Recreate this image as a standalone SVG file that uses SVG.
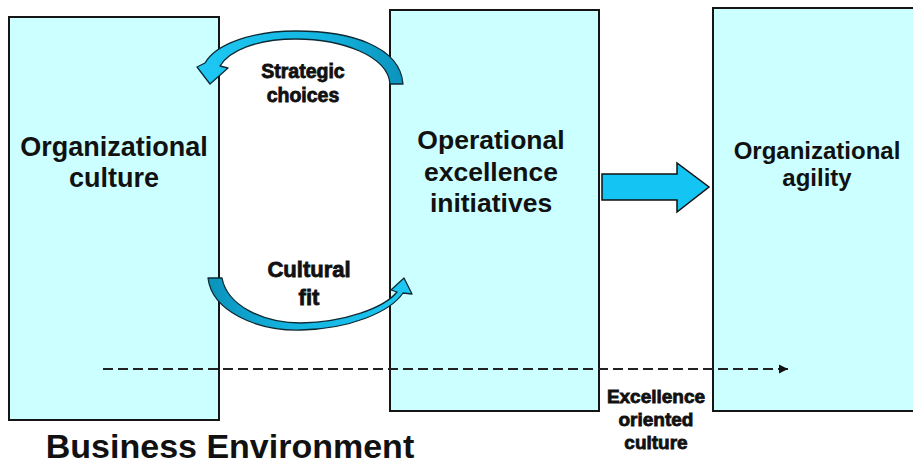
<svg xmlns="http://www.w3.org/2000/svg" width="913" height="466" viewBox="0 0 913 466">
  <style>
    .box { fill: #ccffff; stroke: #151515; stroke-width: 2; }
    .title { font-family: "Liberation Sans", Arial, sans-serif; font-weight: bold; fill: #111; text-anchor: middle; }
    .small { font-family: "Liberation Sans", Arial, sans-serif; font-weight: bold; fill: #111; text-anchor: middle; stroke: #111; stroke-width: 0.8; }
    .curve { stroke: #0c2a33; stroke-width: 1.3; stroke-linejoin: round; }
    .dash { fill: none; stroke: #222; stroke-width: 2; stroke-dasharray: 10 5; }
  </style>
  <defs>
    <linearGradient id="gradTop" gradientUnits="userSpaceOnUse" x1="200" y1="0" x2="405" y2="0">
      <stop offset="0" stop-color="#1ec8f4"/>
      <stop offset="0.6" stop-color="#14b4e0"/>
      <stop offset="1" stop-color="#0b92bb"/>
    </linearGradient>
    <linearGradient id="gradBottom" gradientUnits="userSpaceOnUse" x1="208" y1="0" x2="412" y2="0">
      <stop offset="0" stop-color="#0b92bb"/>
      <stop offset="0.4" stop-color="#14b4e0"/>
      <stop offset="1" stop-color="#1ec8f4"/>
    </linearGradient>
    <marker id="dashHead" markerWidth="10" markerHeight="10" refX="9" refY="5" orient="auto" markerUnits="userSpaceOnUse">
      <path d="M0,0.5 L9,5 L0,9.5 Z" fill="#111"/>
    </marker>
  </defs>

  <!-- boxes -->
  <g id="org-culture">
    <rect class="box" x="9" y="17" width="210" height="403"/>
    <text class="title" font-size="27" x="114" y="156">Organizational</text>
    <text class="title" font-size="27" x="114" y="187">culture</text>
  </g>

  <g id="op-excellence">
    <rect class="box" x="390" y="10" width="209" height="401"/>
    <text class="title" font-size="26.5" x="491" y="149">Operational</text>
    <text class="title" font-size="26.5" x="491" y="181">excellence</text>
    <text class="title" font-size="26.5" x="491" y="212">initiatives</text>
  </g>

  <g id="org-agility">
    <rect class="box" x="713" y="8" width="210" height="403" stroke-width="2.5"/>
    <text class="title" font-size="24" x="817" y="159">Organizational</text>
    <text class="title" font-size="24" x="817" y="186">agility</text>
  </g>

  <!-- connectors -->
  <g id="connectors">
    <!-- strategic choices: curved arrow from initiatives back to culture -->
    <path class="curve" fill="url(#gradTop)" d="M 390 84 C 388 56, 342 39, 296 39 C 256 39, 229 51, 220 66 L 228 68 L 210 84 L 197 67 L 205 63 C 216 44, 252 31, 296 31 C 350 31, 400 46, 403 84 Z"/>
    <!-- cultural fit: curved arrow from culture to initiatives -->
    <path class="curve" fill="url(#gradBottom)" d="M 208 278 C 212 311, 256 331, 301 330 C 350 329, 390 312, 403 293 L 412 294 L 404 278 L 391 290 L 397 292 C 384 308, 345 322, 301 323 C 262 323, 227 305, 222 278 Z"/>
    <!-- block arrow towards agility -->
    <path fill="#14c4f2" stroke="#111" stroke-width="1.5" stroke-linejoin="miter" d="M 602 174 L 677 174 L 677 163 L 709 187 L 677 212 L 677 200 L 602 200 Z"/>
    <!-- excellence oriented culture: dashed arrow -->
    <line class="dash" x1="103" y1="369" x2="788" y2="369" marker-end="url(#dashHead)"/>
  </g>

  <!-- labels -->
  <g id="labels">
    <text class="small" font-size="19.5" x="303" y="78">Strategic</text>
    <text class="small" font-size="19.5" x="303" y="102">choices</text>
    <text class="small" font-size="22" x="309" y="277">Cultural</text>
    <text class="small" font-size="22" x="309" y="305">fit</text>
    <text class="small" font-size="19" x="656" y="403">Excellence</text>
    <text class="small" font-size="19" x="656" y="426">oriented</text>
    <text class="small" font-size="19" x="656" y="449">culture</text>
    <text class="title" font-size="34" x="230" y="458">Business Environment</text>
  </g>
</svg>
